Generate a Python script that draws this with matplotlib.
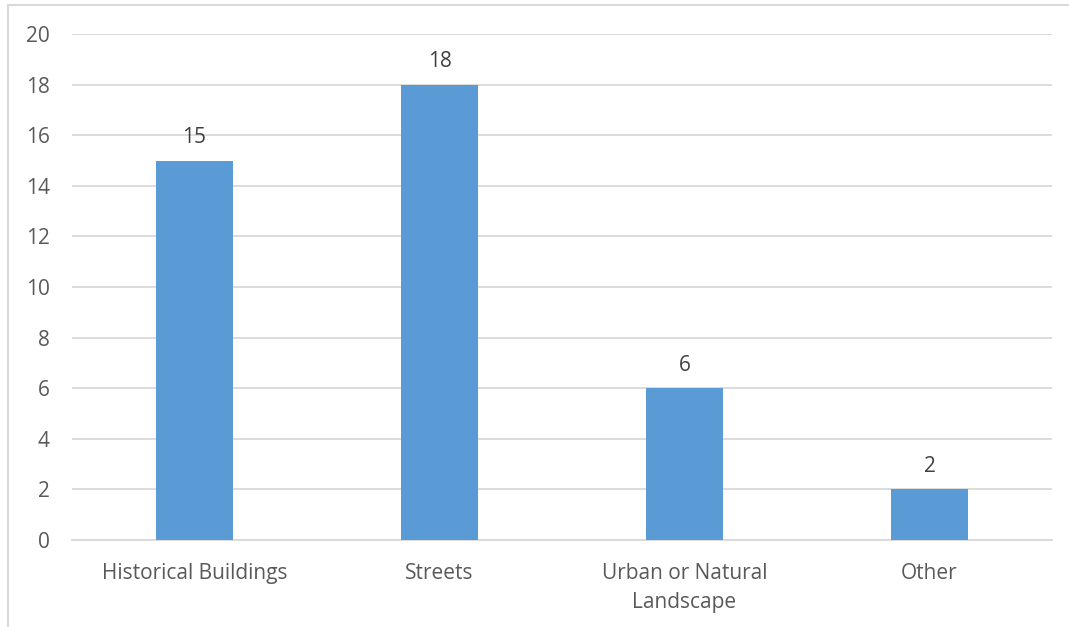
import matplotlib.pyplot as plt
from matplotlib.patches import Rectangle

categories = ["Historical Buildings", "Streets", "Urban or Natural\nLandscape", "Other"]
counts = [15, 18, 6, 2]
yticks = [0, 2, 4, 6, 8, 10, 12, 14, 16, 18, 20]

plt.rcParams["font.family"] = ["Open Sans", "DejaVu Sans"]

W, H = 1069, 627
fig = plt.figure(figsize=(W / 100, H / 100), dpi=100)
ax = fig.add_axes([72 / W, (H - 540) / H, (1052 - 72) / W, (540 - 34) / H])

# outer chart border (clipped at the right and bottom edges)
fig.patches.append(Rectangle((8 / W, -0.1), 1.2, (H - 5) / H + 0.1,
                             transform=fig.transFigure, fill=False,
                             edgecolor="#d9d9d9", lw=1.5))

x = range(len(categories))
bars = ax.bar(x, counts, width=0.314, color="#5b9bd5", zorder=3)
for b, v in zip(bars, counts):
    ax.annotate(str(v), (b.get_x() + b.get_width() / 2, v), xytext=(0, 9),
                textcoords="offset points", ha="center", va="bottom",
                fontsize=15, color="#404040")

ax.set_xlim(-0.5, len(categories) - 0.5)
ax.set_ylim(0, 20)
ax.set_yticks(yticks)
ax.set_xticks(list(x))
ax.set_xticklabels(categories, linespacing=1.5)
ax.tick_params(length=0, labelsize=15, labelcolor="#595959")
ax.tick_params(axis="y", pad=16)
ax.tick_params(axis="x", pad=16.5)
ax.grid(axis="y", color="#d9d9d9", lw=1.3, zorder=0)
for s in ["top", "right", "left"]:
    ax.spines[s].set_visible(False)
ax.spines["bottom"].set_color("#d9d9d9")
ax.spines["bottom"].set_linewidth(1.3)

fig.savefig("out.png", dpi=100)
